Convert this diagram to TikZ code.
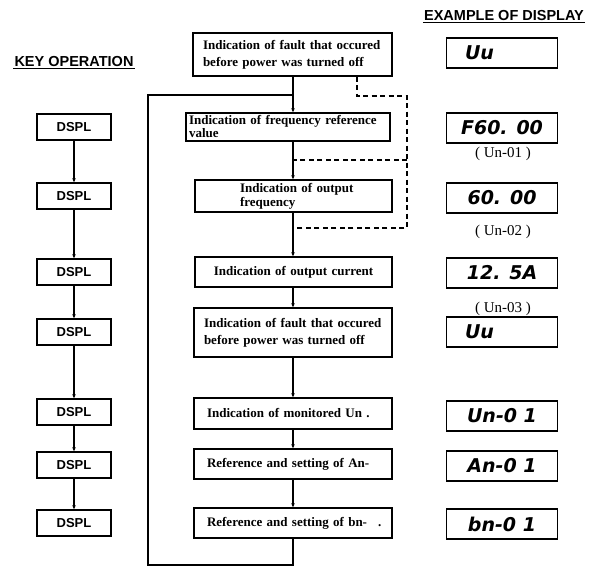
\documentclass[tikz,border=0pt]{standalone}
\usepackage{fontspec}
\setmainfont{Liberation Serif}
\setsansfont{Liberation Sans}
\newfontfamily\segfont{DejaVu Sans}
\usetikzlibrary{arrows.meta}
\begin{document}
\begin{tikzpicture}[x=1pt,y=-1pt,
  ln/.style={line width=1.2pt},
  arr/.style={ln,-{Stealth[length=4pt,width=3.5pt]}},
  dsh/.style={line width=1.2pt,dash pattern=on 5pt off 3.5pt},
  flowbox/.style={draw,line width=1.4pt,inner xsep=10pt,inner ysep=2pt,
    font=\bfseries\fontsize{13}{17}\selectfont,align=left,anchor=center},
  keybox/.style={draw,line width=1.4pt,minimum width=74pt,minimum height=26pt,
    font=\sffamily\bfseries\fontsize{13}{15}\selectfont,inner sep=0pt},
  dispbox/.style={draw,line width=1.4pt,minimum width=111pt,minimum height=30pt,
    font=\segfont\bfseries\itshape\fontsize{19}{21}\selectfont,inner sep=0pt},
  title/.style={font=\sffamily\bfseries\fontsize{14.5}{16}\selectfont,inner sep=1pt},
  unlab/.style={font=\fontsize{15}{17}\selectfont}
]
\useasboundingbox (0,0) rectangle (601,577);

% titles
\node[title] (t1) at (504,16) {EXAMPLE OF DISPLAY};
\draw[ln] (t1.south west) -- (t1.south east);
\node[title] (t2) at (74,62) {KEY OPERATION};
\draw[ln] (t2.south west) -- (t2.south east);

% flow boxes
\node[flowbox,minimum width=199pt,minimum height=43pt,text width=179pt] (b1) at (292.5,54.5)
  {Indication of fault that occured\\before power was turned off};
\node[flowbox,minimum width=204pt,minimum height=28pt,text width=198pt,inner xsep=3pt,
  font=\bfseries\fontsize{13}{13}\selectfont] (b2) at (288,127)
  {Indication of frequency reference\\value};
\node[flowbox,minimum width=197pt,minimum height=32pt,text width=193pt,inner xsep=2pt,
  font=\bfseries\fontsize{13}{14}\selectfont] (b3) at (293.5,196)
  {\hspace*{43pt}Indication of output\\\hspace*{43pt}frequency};
\node[flowbox,minimum width=197pt,minimum height=30pt,text width=177pt,align=center] (b4) at (293.5,272)
  {Indication of output current};
\node[flowbox,minimum width=198pt,minimum height=49pt,text width=178pt] (b5) at (293,332.5)
  {Indication of fault that occured\\before power was turned off};
\node[flowbox,minimum width=198pt,minimum height=31pt,text width=186pt,inner xsep=6pt] (b6) at (293,413.5)
  {\hspace*{7pt}Indication of monitored Un .};
\node[flowbox,minimum width=198pt,minimum height=30pt,text width=186pt,inner xsep=6pt] (b7) at (293,464)
  {\hspace*{7pt}Reference and setting of An-};
\node[flowbox,minimum width=198pt,minimum height=30pt,text width=186pt,inner xsep=6pt] (b8) at (293,523)
  {\hspace*{7pt}Reference and setting of bn-\hspace{11pt}.};

% key boxes
\node[keybox] (k1) at (74,127) {DSPL};
\node[keybox] (k2) at (74,196) {DSPL};
\node[keybox] (k3) at (74,272) {DSPL};
\node[keybox] (k4) at (74,332) {DSPL};
\node[keybox] (k5) at (74,412) {DSPL};
\node[keybox] (k6) at (74,465) {DSPL};
\node[keybox] (k7) at (74,523) {DSPL};

% display boxes
\node[dispbox] (d1) at (502,53) {\hspace*{-45pt}Uu};
\node[dispbox] (d2) at (502,128) {F60. 00};
\node[dispbox] (d3) at (502,198) {60. 00};
\node[dispbox] (d4) at (502,273) {12. 5A};
\node[dispbox] (d5) at (502,332) {\hspace*{-45pt}Uu};
\node[dispbox] (d6) at (502,416) {Un-0 1};
\node[dispbox] (d7) at (502,466) {An-0 1};
\node[dispbox] (d8) at (502,524) {bn-0 1};

\node[unlab] (u1) at (503,154) {(~Un-01~)};
\node[unlab] (u2) at (503,232) {(~Un-02~)};
\node[unlab] (u3) at (503,309) {(~Un-03~)};

% key chain
\foreach \a/\b in {k1/k2,k2/k3,k3/k4,k4/k5,k5/k6,k6/k7}
  \draw[arr] (\a.south) -- (\b.north);

% main chain
\foreach \a/\b in {b1/b2,b2/b3,b3/b4,b4/b5,b5/b6,b6/b7,b7/b8}
  \draw[arr] (\a.south -| 293,0) -- (\b.north -| 293,0);

% return loop
\coordinate (lj) at (293,95);
\coordinate (lb) at (293,565);
\draw[ln] (b8.south -| lb) -- (lb) -- (148,565) -- (148,95) -- (lj);

% dashed bypass
\coordinate (ds) at (357,96);
\coordinate (dr) at (407,96);
\coordinate (j1) at (293,160);
\coordinate (j2) at (293,228);
\draw[dsh] (b1.south -| ds) -- (ds) -- (dr) -- (407,228) -- (j2);
\draw[dsh] (407,160) -- (j1);
\end{tikzpicture}
\end{document}
